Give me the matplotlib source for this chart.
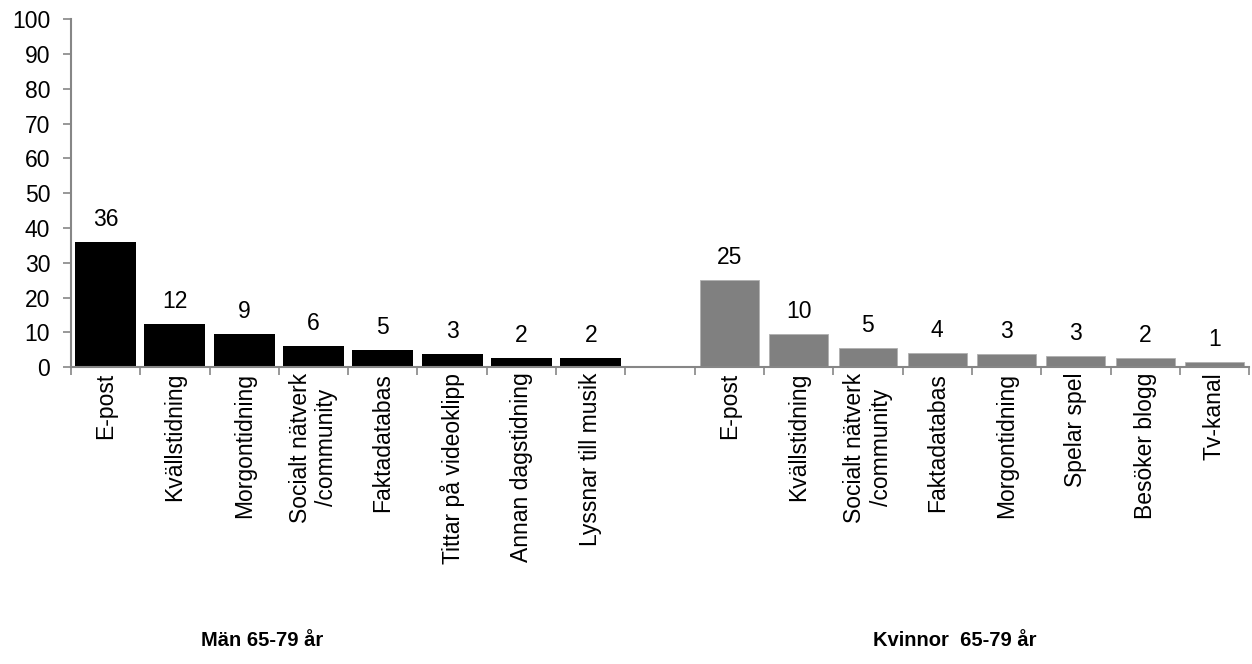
import numpy as np
import matplotlib
matplotlib.use('Agg')
from matplotlib import pyplot as plt

plt.rcParams['font.family'] = ['Liberation Sans', 'DejaVu Sans']

# Män 65-79 år
men_cats = ['E-post', 'Kvällstidning', 'Morgontidning', 'Socialt nätverk\n/community',
            'Faktadatabas', 'Tittar på videoklipp', 'Annan dagstidning', 'Lyssnar till musik']
men_vals = [36, 12.3, 9.4, 6.1, 4.9, 3.7, 2.6, 2.6]
men_labels = ['36', '12', '9', '6', '5', '3', '2', '2']

# Kvinnor 65-79 år
women_cats = ['E-post', 'Kvällstidning', 'Socialt nätverk\n/community', 'Faktadatabas',
              'Morgontidning', 'Spelar spel', 'Besöker blogg', 'Tv-kanal']
women_vals = [25, 9.4, 5.4, 4.1, 3.7, 3.1, 2.5, 1.35]
women_labels = ['25', '10', '5', '4', '3', '3', '2', '1']

group_titles = ['Män 65-79 år', 'Kvinnor  65-79 år']

grey = '#868686'
fs = 16.5

fig = plt.figure(figsize=(12.52, 6.64), dpi=100)
ax = fig.add_axes([0.0567, 0.447, 0.941, 0.524])

x_men = np.arange(len(men_vals))
x_women = np.arange(len(women_vals)) + len(men_vals) + 1

ax.bar(x_men, men_vals, width=0.88, color='black')
ax.bar(x_women, women_vals, width=0.85, color='#808080', edgecolor='#b0b0b0', linewidth=0.6)

# värdeetiketter
for xs, vals, labs in [(x_men, men_vals, men_labels), (x_women, women_vals, women_labels)]:
    for xi, v, lab in zip(xs, vals, labs):
        ax.annotate(lab, (xi, v), xytext=(0, 16.5), textcoords='offset points',
                    ha='center', va='center', fontsize=fs)

n = len(men_vals) + 1 + len(women_vals)
ax.set_xlim(-0.5, n - 0.5)
ax.set_ylim(0, 100)
ax.set_yticks(np.arange(0, 101, 10))

ax.set_xticks(np.concatenate([x_men, x_women]))
ax.set_xticklabels(men_cats + women_cats, rotation=90, fontsize=fs,
                   va='top', ha='center', multialignment='center')
ax.set_xticks(np.arange(-0.5, n), minor=True)
ax.tick_params(axis='x', which='major', length=0, pad=4)
ax.tick_params(axis='x', which='minor', length=6, color=grey, width=1.2, direction='out')
ax.tick_params(axis='y', length=6, color=grey, width=1.2, pad=9, labelsize=fs)

for s in ['top', 'right']:
    ax.spines[s].set_visible(False)
for s in ['left', 'bottom']:
    ax.spines[s].set_color(grey)
    ax.spines[s].set_linewidth(1.5)

fig.text(262 / 1252, 1 - 640 / 664, group_titles[0], ha='center', va='center',
         fontsize=14.5, fontweight='bold')
fig.text(955 / 1252, 1 - 640 / 664, group_titles[1], ha='center', va='center',
         fontsize=14.5, fontweight='bold')

fig.savefig('out.png', dpi=100)
